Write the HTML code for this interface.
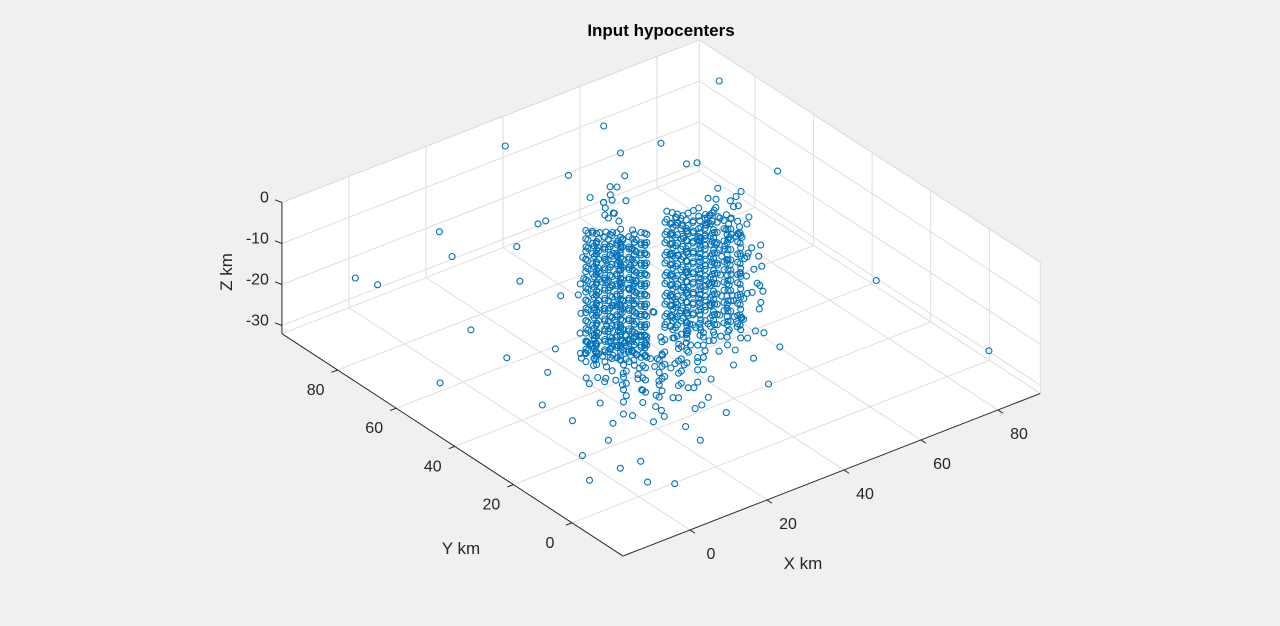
<!DOCTYPE html>
<html><head><meta charset="utf-8"><style>
html,body{margin:0;padding:0;background:#f0f0f0;}
svg{display:block;font-family:"Liberation Sans",Arial,sans-serif;}
</style></head><body>
<svg id="chart" width="1280" height="626" viewBox="0 0 1280 626" xmlns="http://www.w3.org/2000/svg">
<rect width="1280" height="626" fill="#f0f0f0"/>
<g id="box"></g>
<g id="grid"></g>
<g id="axes"></g>
<g id="pts"></g>
<text x="661" y="36" text-anchor="middle" font-size="17" font-weight="bold" fill="#000">Input hypocenters</text>
<text x="803" y="569" text-anchor="middle" font-size="17" fill="#262626">X km</text>
<text x="461" y="554" text-anchor="middle" font-size="17" fill="#262626">Y km</text>
<text x="0" y="0" transform="translate(232,272) rotate(-90)" text-anchor="middle" font-size="17" fill="#262626">Z km</text>
</svg>
<script>
const xTicks = [0, 20, 40, 60, 80];
const yTicks = [0, 20, 40, 60, 80];
const zTicks = [0, -10, -20, -30];
const xLim = [-17.4, 91];
const yLim = [-17.4, 99];
const zLim = [-32, 0];

const sparseEvents = [[84,83,0],[54,83,0],[33,89,0],[50,72,0],[59,70,0],[38,74,-2],[58,60,0],[60,59,0],[71,46,0],[6,76,-5],[7,73,-10],[-9,85,-15],[-7,80,-15],[17,63,-15],[2,60,-20],[6,53,-25],[-6,60,-30],[0,33,-25],[1,24,-25],[-1,18,-30],[-6,9,-30],[2,9,-30],[3,1,-30],[7,-3,-30],[5,6,-28],[70,11,-10],[81,-13,-20],[48,15,-20],[42,11,-25],[24,66,-5],[26,66,-5],[20,68,-10],[28,7,-25],[22,8,-30],[18,16,-25],[5,17,-28],[11,43,-20],[9,43,-25],[20,53,-15]];

const leftCluster = [[15,33,-30],[16,38,-28],[18,35,-26],[17,42,-24],[20,38,-29],[20,44,-22],[22,40,-27],[22,36,-20],[23,47,-25],[25,42,-30],[25,48,-18],[26,44,-24],[27,50,-21],[28,43,-16],[28,52,-27],[30,46,-12],[30,54,-19],[31,49,-23],[32,56,-14],[32,47,-28],[33,52,-9],[34,58,-17],[34,50,-20],[35,55,-6],[35,60,-12],[36,53,-25],[37,57,-3],[37,62,-10],[38,55,-15],[39,60,-5],[40,63,-8],[40,57,-1],[41,61,-13],[42,65,-4],[42,58,-18],[43,64,-2],[44,67,-7],[44,60,-11],[45,64,0],[45,69,-5],[18,40,-20],[19,36,-14],[21,42,-17],[23,39,-12],[24,45,-15],[26,40,-8],[27,47,-11],[29,45,-6],[29,51,-14],[31,52,-3],[33,55,-1],[36,50,-8],[38,59,-22],[39,56,-26],[41,55,-20],[43,62,-14],[30,50,-26],[26,49,-29],[24,41,-22],[21,46,-26],[19,43,-30],[17,37,-18],[16,41,-22],[35,48,-16],[37,52,-19],[32,58,-6],[34,62,-9],[36,64,-2],[28,56,-10],[26,53,-13],[25,51,-7],[23,50,-19],[22,49,-23],[20,47,-12],[19,45,-8],[27,42,-28],[29,47,-30],[31,45,-25],[33,48,-27],[35,53,-29],[37,55,-30],[39,53,-24],[40,60,-16],[42,62,-21],[44,64,-17],[45,66,-12],[43,68,-9],[41,66,-6],[38,62,-3],[36,59,-11],[34,56,-13],[32,53,-16],[30,48,-18],[28,46,-20],[26,46,-17],[24,44,-27],[22,43,-31],[20,41,-25],[18,39,-23]];

const rightCluster = [[48,30,0],[50,36,-2],[52,34,-1],[55,40,0],[53,42,-3],[57,41,-1],[58,45,-2],[60,44,0],[46,33,-4],[45,28,-5],[49,38,-6],[51,31,-7],[54,37,-5],[56,43,-6],[59,40,-4],[61,47,-3],[44,30,-8],[47,35,-9],[50,29,-10],[52,39,-8],[55,35,-9],[57,44,-10],[60,42,-7],[42,27,-11],[44,34,-12],[47,26,-13],[49,33,-11],[52,28,-12],[54,41,-13],[57,38,-12],[59,46,-11],[40,25,-14],[42,31,-15],[45,24,-16],[47,30,-14],[50,35,-15],[53,31,-16],[55,44,-14],[58,37,-15],[38,22,-17],[40,29,-18],[43,23,-17],[46,28,-18],[48,33,-19],[51,26,-17],[54,34,-18],[56,39,-16],[36,20,-19],[38,26,-20],[41,21,-21],[44,27,-20],[47,22,-19],[50,30,-21],[52,36,-20],[35,24,-22],[39,19,-23],[42,25,-22],[45,20,-24],[48,26,-23],[51,32,-22],[53,27,-24],[57,48,0],[55,46,-1],[53,44,-2],[56,50,-3],[54,47,-5],[52,45,-4],[50,42,-3],[51,40,-1],[48,40,-2],[46,38,-3],[47,42,-6],[49,44,-8],[51,46,-9],[58,50,-6],[60,49,-8],[62,50,-10],[61,45,-12],[62,43,-14],[60,38,-13],[58,35,-18],[56,32,-20],[55,30,-16],[57,33,-12],[59,36,-9],[40,42,-7],[41,38,-10],[42,40,-3],[39,36,-12],[43,43,-9],[44,45,-1],[46,46,-4]];

const bottomCluster = [[20,20,-15],[22,25,-18],[25,22,-20],[27,28,-16],[30,24,-22],[32,30,-19],[35,26,-24],[18,24,-21],[15,20,-17],[13,25,-20],[17,28,-24],[20,30,-18],[23,32,-22],[26,34,-26],[29,33,-13],[31,36,-15],[34,32,-12],[36,30,-17],[38,28,-20],[24,18,-12],[28,20,-25],[31,22,-27],[33,24,-14],[21,16,-23],[18,15,-26],[15,14,-22],[12,18,-25],[10,22,-28],[25,27,-29],[28,30,-28],[22,28,-27],[19,26,-12],[16,23,-10],[14,28,-14],[11,30,-18],[24,36,-20],[27,38,-24],[30,40,-27],[33,38,-30],[36,35,-29],[38,33,-26],[40,30,-25],[37,24,-28],[34,21,-30],[30,18,-29],[26,15,-27],[22,13,-29],[19,20,-30],[29,36,-22],[32,34,-25],[35,33,-21],[38,36,-18],[27,33,-19],[24,31,-16],[21,33,-25],[31,29,-14],[34,28,-17],[37,31,-23]];

// Dense columns: [x, y, [depths of events at that epicenter]]
const leftLobeColumns = [
[25,51,[0,-2,-5,-7,-10,-12,-15,-17,-20,-22,-25,-27,-30]],
[27,50,[-1,-3,-6,-8,-11,-13,-16,-18,-21,-23,-26,-28]],
[29,48,[-1,-4,-6,-9,-11,-14,-16,-19,-21,-24,-26,-29]],
[31,47,[0,-2,-5,-7,-10,-12,-15,-17,-20,-22,-25,-27,-30]],
[33,45,[-1,-3,-6,-8,-11,-13,-16,-18,-21,-23,-26,-28]],
[35,44,[-1,-4,-6,-9,-11,-14,-16,-19,-21,-24,-26,-29]],
[24,49,[-1,-3,-6,-8,-11,-13,-16,-18,-21,-23,-26,-28]],
[26,48,[-1,-4,-6,-9,-11,-14,-16,-19,-21,-24,-26,-29]],
[28,46,[0,-2,-5,-7,-10,-12,-15,-17,-20,-22,-25,-27,-30]],
[30,45,[-1,-3,-6,-8,-11,-13,-16,-18,-21,-23,-26,-28]],
[32,43,[-1,-4,-6,-9,-11,-14,-16,-19,-21,-24,-26,-29]],
[34,42,[0,-2,-5,-7,-10,-12,-15,-17,-20,-22,-25,-27,-30]],
[22,47,[-1,-4,-6,-9,-11,-14,-16,-19,-21,-24,-26,-29]],
[24,46,[0,-2,-5,-7,-10,-12,-15,-17,-20,-22,-25,-27,-30]],
[26,44,[-1,-3,-6,-8,-11,-13,-16,-18,-21,-23,-26,-28]],
[28,43,[-1,-4,-6,-9,-11,-14,-16,-19,-21,-24,-26,-29]],
[30,41,[0,-2,-5,-7,-10,-12,-15,-17,-20,-22,-25,-27,-30]],
[32,40,[-1,-3,-6,-8,-11,-13,-16,-18,-21,-23,-26,-28]],
[26,50,[-0.5,-3,-5.5,-8,-10.5,-13,-15.5,-18,-20.5,-23,-25.5,-28]],
[28,48.5,[-1.5,-4,-6.5,-9,-11.5,-14,-16.5,-19,-21.5,-24,-26.5,-29]],
[30,47,[-0.5,-3,-5.5,-8,-10.5,-13,-15.5,-18,-20.5,-23,-25.5,-28]],
[32,45.5,[-1.5,-4,-6.5,-9,-11.5,-14,-16.5,-19,-21.5,-24,-26.5,-29]],
[34,44,[-0.5,-3,-5.5,-8,-10.5,-13,-15.5,-18,-20.5,-23,-25.5,-28]],
[25,47.5,[-1.5,-4,-6.5,-9,-11.5,-14,-16.5,-19,-21.5,-24,-26.5,-29]],
[27,46,[-0.5,-3,-5.5,-8,-10.5,-13,-15.5,-18,-20.5,-23,-25.5,-28]],
[29,44.5,[-1.5,-4,-6.5,-9,-11.5,-14,-16.5,-19,-21.5,-24,-26.5,-29]],
[31,43,[-0.5,-3,-5.5,-8,-10.5,-13,-15.5,-18,-20.5,-23,-25.5,-28]],
[33,41.5,[-1.5,-4,-6.5,-9,-11.5,-14,-16.5,-19,-21.5,-24,-26.5,-29]],
[23,45.5,[-0.5,-3,-5.5,-8,-10.5,-13,-15.5,-18,-20.5,-23,-25.5,-28]],
[25,44.5,[-1.5,-4,-6.5,-9,-11.5,-14,-16.5,-19,-21.5,-24,-26.5,-29]],
[27,43,[-0.5,-3,-5.5,-8,-10.5,-13,-15.5,-18,-20.5,-23,-25.5,-28]],
[29,41.5,[-1.5,-4,-6.5,-9,-11.5,-14,-16.5,-19,-21.5,-24,-26.5,-29]],
[31,40,[-0.5,-3,-5.5,-8,-10.5,-13,-15.5,-18,-20.5,-23,-25.5,-28]]];

const rightLobeColumns = [
[43,47,[0,-2,-5,-7,-10,-12,-15,-17,-20,-22,-25,-27]],
[45,46,[-1,-3,-6,-8,-11,-13,-16,-18,-21,-23,-26,-28]],
[47,45,[-1,-4,-6,-9,-11,-14,-16,-19,-21,-24,-26]],
[49,44,[0,-2,-5,-7,-10,-12,-15,-17,-20,-22,-25]],
[51,42,[-1,-3,-6,-8,-11,-13,-16,-18,-21,-23,-26]],
[41,45,[-1,-4,-6,-9,-11,-14,-16,-19,-21,-24,-26]],
[43,44,[0,-2,-5,-7,-10,-12,-15,-17,-20,-22,-25,-27]],
[45,43,[-1,-3,-6,-8,-11,-13,-16,-18,-21,-23,-26,-28]],
[47,41,[-1,-4,-6,-9,-11,-14,-16,-19,-21,-24,-26]],
[49,40,[0,-2,-5,-7,-10,-12,-15,-17,-20,-22,-25,-27]],
[51,38,[-1,-3,-6,-8,-11,-13,-16,-18,-21,-23,-26]],
[53,36,[-1,-4,-6,-9,-11,-14,-16,-19,-21,-24,-26]],
[40,41,[0,-2,-5,-7,-10,-12,-15,-17,-20,-22,-25,-27]],
[42,39,[-1,-3,-6,-8,-11,-13,-16,-18,-21,-23,-26,-28]],
[44,37,[-1,-4,-6,-9,-11,-14,-16,-19,-21,-24,-26]],
[46,35,[0,-2,-5,-7,-10,-12,-15,-17,-20,-22,-25,-27]],
[48,33,[-1,-3,-6,-8,-11,-13,-16,-18,-21,-23,-26]],
[50,31,[-1,-4,-6,-9,-11,-14,-16,-19,-21,-24,-26]],
[44,46.5,[-0.5,-3,-5.5,-8,-10.5,-13,-15.5,-18,-20.5,-23,-25.5]],
[46,45.5,[-1.5,-4,-6.5,-9,-11.5,-14,-16.5,-19,-21.5,-24,-26.5]],
[48,44.5,[-0.5,-3,-5.5,-8,-10.5,-13,-15.5,-18,-20.5,-23,-25.5]],
[50,43,[-1.5,-4,-6.5,-9,-11.5,-14,-16.5,-19,-21.5,-24]],
[42,44.5,[-1.5,-4,-6.5,-9,-11.5,-14,-16.5,-19,-21.5,-24,-26.5]],
[44,43.5,[-0.5,-3,-5.5,-8,-10.5,-13,-15.5,-18,-20.5,-23,-25.5]],
[46,42,[-1.5,-4,-6.5,-9,-11.5,-14,-16.5,-19,-21.5,-24,-26.5]],
[48,40.5,[-0.5,-3,-5.5,-8,-10.5,-13,-15.5,-18,-20.5,-23,-25.5]],
[50,39,[-1.5,-4,-6.5,-9,-11.5,-14,-16.5,-19,-21.5,-24,-26.5]],
[52,37,[-0.5,-3,-5.5,-8,-10.5,-13,-15.5,-18,-20.5,-23,-25.5]],
[41,43,[-0.5,-3,-5.5,-8,-10.5,-13,-15.5,-18,-20.5,-23,-25.5]],
[43,40,[-1.5,-4,-6.5,-9,-11.5,-14,-16.5,-19,-21.5,-24,-26.5]],
[45,38,[-0.5,-3,-5.5,-8,-10.5,-13,-15.5,-18,-20.5,-23,-25.5]],
[47,36,[-1.5,-4,-6.5,-9,-11.5,-14,-16.5,-19,-21.5,-24,-26.5]],
[49,34,[-0.5,-3,-5.5,-8,-10.5,-13,-15.5,-18,-20.5,-23,-25.5]],
[51,32.5,[-1.5,-4,-6.5,-9,-11.5,-14,-16.5,-19,-21.5,-24]]];

const bottomColumns = [
[20,25,[-16,-19,-22,-25,-28]],[22,22,[-17,-20,-23,-26]],[25,25,[-15,-18,-21,-24,-27]],
[27,22,[-16,-19,-22,-25,-28]],[30,25,[-15,-18,-21,-24,-27]],[32,22,[-17,-20,-23,-26]],
[18,28,[-15,-18,-21,-24,-27]],[23,28,[-16,-19,-22,-25,-28]],[28,28,[-14,-17,-20,-23,-26]],
[33,27,[-15,-18,-21,-24]],[35,24,[-16,-19,-22,-25]],[15,25,[-17,-20,-23,-26,-29]]];

// projection (axis functions)
function px(x, y, z) { return 639 + 3.85 * x - 2.93 * y; }
function py(x, y, z) { return 365.5 - 1.5 * x - 1.91 * y - 4.1 * z; }
const NS = 'http://www.w3.org/2000/svg';
function mk(tag, attrs, parent) {
  const e = document.createElementNS(NS, tag);
  for (const k in attrs) e.setAttribute(k, attrs[k]);
  parent.appendChild(e);
  return e;
}
function P(x, y, z) { return [px(x, y, z), py(x, y, z)]; }
function line(a, b, color, w, parent, name) {
  const e = mk('line', {x1: a[0], y1: a[1], x2: b[0], y2: b[1], stroke: color, 'stroke-width': w}, parent);
  
  
  return e;
}
const [x0, x1] = xLim, [y0, y1] = yLim, [z0, z1] = zLim;
const boxG = document.getElementById('box');
const corners = [P(x0, y1, z1), P(x1, y1, z1), P(x1, y0, z1), P(x1, y0, z0), P(x0, y0, z0), P(x0, y1, z0)];
const poly = mk('polygon', {points: corners.map(c => c.join(',')).join(' '), fill: '#ffffff', stroke: 'none'}, boxG);



const gridG = document.getElementById('grid');
const gc = '#dedede';
xTicks.forEach(t => line(P(t, y0, z0), P(t, y1, z0), gc, 1, gridG, 'floor-grid-x'));
yTicks.forEach(t => line(P(x0, t, z0), P(x1, t, z0), gc, 1, gridG, 'floor-grid-y'));
xTicks.forEach(t => line(P(t, y1, z0), P(t, y1, z1), gc, 1, gridG, 'back-wall-grid-x'));
zTicks.forEach(t => line(P(x0, y1, t), P(x1, y1, t), gc, 1, gridG, 'back-wall-grid-z'));
yTicks.forEach(t => line(P(x1, t, z0), P(x1, t, z1), gc, 1, gridG, 'side-wall-grid-y'));
zTicks.forEach(t => line(P(x1, y0, t), P(x1, y1, t), gc, 1, gridG, 'side-wall-grid-z'));
line(P(x0, y1, z1), P(x1, y1, z1), gc, 1, gridG, 'wall-edge');
line(P(x1, y1, z1), P(x1, y0, z1), gc, 1, gridG, 'wall-edge');
line(P(x1, y0, z1), P(x1, y0, z0), gc, 1, gridG, 'wall-edge');
line(P(x1, y1, z0), P(x1, y1, z1), gc, 1, gridG, 'wall-edge');
line(P(x0, y1, z0), P(x1, y1, z0), gc, 1, gridG, 'wall-edge');
line(P(x1, y1, z0), P(x1, y0, z0), gc, 1, gridG, 'wall-edge');

const axG = document.getElementById('axes');
const ac = '#262626';
line(P(x0, y0, z0), P(x1, y0, z0), ac, 1, axG, 'x-axis-line');
line(P(x0, y0, z0), P(x0, y1, z0), ac, 1, axG, 'y-axis-line');
line(P(x0, y1, z0), P(x0, y1, z1), ac, 1, axG, 'z-axis-line');
function label(x, y, txt, anchor, name) {
  const t = mk('text', {x: x, y: y, 'text-anchor': anchor, 'font-size': 16, fill: ac}, axG);
  t.textContent = txt;
  
  
}
xTicks.forEach(t => {
  const b = P(t, y0, z0);
  line(b, [b[0] + 5, b[1] + 3.3], ac, 1, axG, 'x-tick');
  label(b[0] + 21, b[1] + 29, String(t), 'middle', 'x-tick-label');
});
yTicks.forEach(t => {
  const b = P(x0, t, z0);
  line(b, [b[0] - 6, b[1] + 2.3], ac, 1, axG, 'y-tick');
  label(b[0] - 22, b[1] + 25, String(t), 'middle', 'y-tick-label');
});
zTicks.forEach(t => {
  const b = P(x0, y1, t);
  line(b, [b[0] - 7, b[1] - 2.7], ac, 1, axG, 'z-tick');
  label(b[0] - 13, b[1] + 0, String(t), 'end', 'z-tick-label');
});

const ptG = document.getElementById('pts');
function marker(x, y, z, name) {
  const c = mk('circle', {cx: px(x, y, z).toFixed(1), cy: py(x, y, z).toFixed(1), r: 3, fill: 'none', stroke: '#0072bd', 'stroke-width': 1.1}, ptG);
  
  
}
function drawSet(arr, name) { arr.forEach(p => marker(p[0], p[1], p[2], name)); }
function drawColumns(cols, name) { cols.forEach(c => c[2].forEach(z => marker(c[0], c[1], z, name))); }
drawSet(sparseEvents, 'sparse-hypocenter');
drawSet(leftCluster, 'left-cluster-hypocenter');
drawColumns(leftLobeColumns, 'left-lobe-hypocenter');
drawSet(rightCluster, 'right-cluster-hypocenter');
drawColumns(rightLobeColumns, 'right-lobe-hypocenter');
drawSet(bottomCluster, 'bottom-cluster-hypocenter');
drawColumns(bottomColumns, 'bottom-joint-hypocenter');
</script>
</body></html>
